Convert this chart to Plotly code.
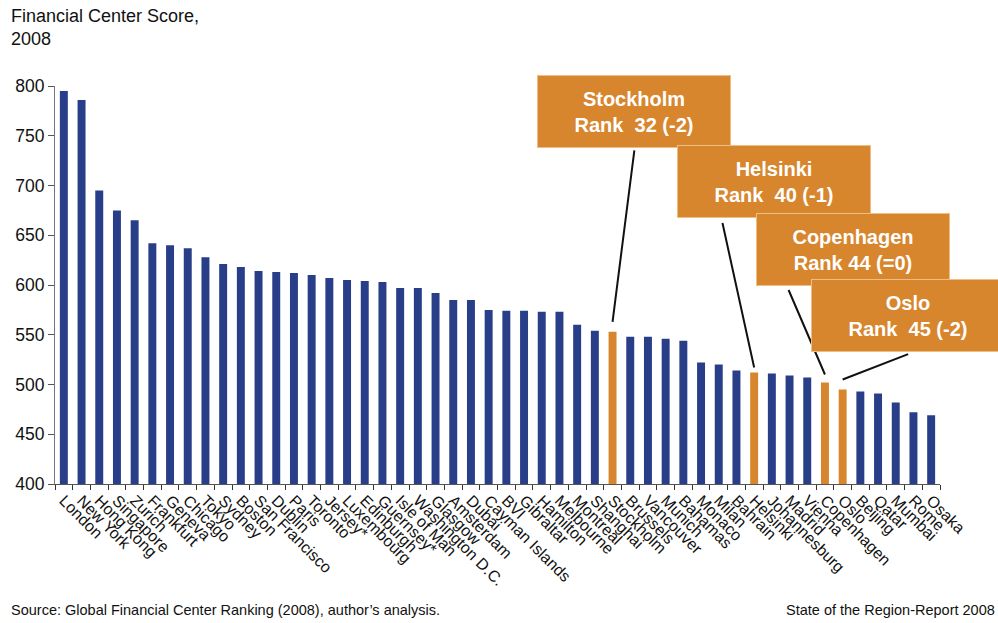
import plotly.graph_objects as go

cities = ["London", "New York", "Hong Kong", "Singapore", "Zurich", "Frankfurt", "Geneva",
          "Chicago", "Tokyo", "Sydney", "Boston", "San Francisco", "Dublin", "Paris", "Toronto",
          "Jersey*", "Luxembourg", "Edinburgh", "Guernsey*", "Isle of Man", "Washington D.C.",
          "Glasgow", "Amsterdam", "Dubai", "Cayman Islands", "BVI", "Gibraltar", "Hamilton",
          "Melbourne", "Montreal", "Shanghai", "Stockholm", "Brussels", "Vancouver", "Munich",
          "Bahamas", "Monaco", "Milan", "Bahrain", "Helsinki", "Johannesburg", "Madrid",
          "Vienna", "Copenhagen", "Oslo", "Beijing", "Qatar", "Mumbai", "Rome", "Osaka"]
scores = [795, 786, 695, 675, 665, 642, 640, 637, 628, 621, 618, 614, 613, 612, 610,
          607, 605, 604, 603, 597, 597, 592, 585, 585, 575, 574, 574, 573, 573, 560,
          554, 553, 548, 548, 546, 544, 522, 520, 514, 512, 511, 509, 507, 502, 495,
          493, 491, 482, 472, 469]

highlight = ["Stockholm", "Helsinki", "Copenhagen", "Oslo"]
rank_text = ["Rank&nbsp; 32 (-2)", "Rank&nbsp; 40 (-1)", "Rank 44 (=0)", "Rank&nbsp; 45 (-2)"]
y_ticks = [400, 450, 500, 550, 600, 650, 700, 750, 800]

BLUE = "#283E88"
ORANGE = "#D8862E"
FONT = "Liberation Sans, Arial, sans-serif"

colors = [ORANGE if c in highlight else BLUE for c in cities]

fig = go.Figure(go.Bar(x=cities, y=scores, marker=dict(color=colors, line=dict(width=0)),
                       width=0.45, hoverinfo="x+y"))

W, H = 998, 623
L, R, T, B = 55, 58, 86, 138.5
pw, ph = W - L - R, H - T - B

def px(xp):
    return (xp - L) / pw

def py(yp):
    return (H - B - yp) / ph

fig.update_layout(
    width=W, height=H,
    margin=dict(l=L, r=R, t=T, b=B, autoexpand=False),
    paper_bgcolor="white", plot_bgcolor="white",
    showlegend=False,
    font=dict(family=FONT, color="#111111"),
    xaxis=dict(type="category", tickmode="array", tickvals=cities, ticktext=cities,
               tickangle=45, ticks="outside", tickson="boundaries",
               ticklen=5, tickcolor="#333333", showline=True, linecolor="#555555",
               linewidth=1, showgrid=False, tickfont=dict(size=16, family=FONT, color="#111111"),
               range=[-0.5, len(cities) - 0.5]),
    yaxis=dict(range=[400, 800], tickmode="array", tickvals=y_ticks,
               ticks="outside", ticklen=6, tickcolor="#555555", showline=True,
               linecolor="#777777", linewidth=1, showgrid=False, zeroline=False,
               tickfont=dict(size=17.5, family=FONT, color="#111111")),
)

# Title
fig.add_annotation(xref="paper", yref="paper", x=px(9), y=py(4), xanchor="left", yanchor="top",
                   text="Financial Center Score,<br>2008", showarrow=False, align="left",
                   font=dict(size=18, family=FONT, color="#111111"))
# Footers
fig.add_annotation(xref="paper", yref="paper", x=px(9), y=py(621), xanchor="left", yanchor="bottom",
                   text="Source: Global Financial Center Ranking (2008), author’s analysis.",
                   showarrow=False, font=dict(size=14.5, family=FONT, color="#111111"))
fig.add_annotation(xref="paper", yref="paper", x=px(997), y=py(621), xanchor="right", yanchor="bottom",
                   text="State of the Region-Report 2008",
                   showarrow=False, font=dict(size=14.5, family=FONT, color="#111111"))

# Connector lines (pixel offsets of box end from bar top)
box_centers = [(634, 111.5), (773.5, 181.5), (853, 249.5), (908, 316)]
line_offsets = [(22, -173, 10), (-32, -146, 5), (-37, -86, 8), (67, -26, 10)]
for name, (ax, ay, ys) in zip(highlight, line_offsets):
    v = scores[cities.index(name)]
    fig.add_annotation(x=name, y=v, yshift=ys, ax=ax, ay=ay, text="", showarrow=True,
                       arrowhead=0, arrowwidth=2, arrowcolor="#111111", standoff=0, startstandoff=0)

# Boxes
for name, rt, (cx, cy) in zip(highlight, rank_text, box_centers):
    fig.add_annotation(xref="paper", yref="paper", x=px(cx), y=py(cy),
                       xanchor="center", yanchor="middle",
                       text=f"<b>{name}<br>{rt}</b>", showarrow=False,
                       width=192, height=71, borderpad=0, bgcolor=ORANGE,
                       bordercolor="#EDBE85", borderwidth=1, align="center",
                       font=dict(size=20, family=FONT, color="white"))

fig.write_html("out.html", config={"displayModeBar": False},
               post_script="document.body.style.margin='0';document.body.style.overflow='hidden';")
